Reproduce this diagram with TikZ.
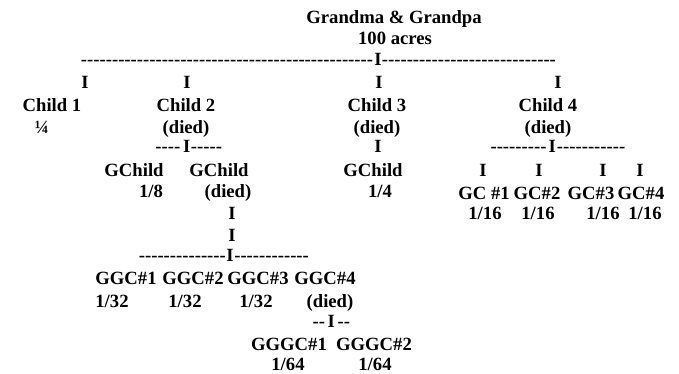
\documentclass[tikz,border=0pt]{standalone}
\usepackage{fontspec}
\setmainfont{Liberation Serif}
\usetikzlibrary{positioning}
\newcommand{\dashfill}[1]{\hbox to #1{\cleaders\hbox{-}\hfill}}

\begin{document}
\begin{tikzpicture}[
  x=0.75pt, y=-0.75pt,
  txt/.style={anchor=base, inner sep=0pt, font=\fontsize{14}{16}\selectfont\bfseries}
]
\useasboundingbox (0,0) rectangle (679,374);
% grandparents
\node[txt] (gp) at (394,24) {Grandma \& Grandpa};
\node[txt] (acres) at (395,45) {100 acres};
\node[txt] (bar0) at (318,66) {\dashfill{221pt}I\dashfill{131pt}};
% children
\node[txt] (i1) at (85,89) {I};
\node[txt] (i2) at (187,89) {I};
\node[txt] (i3) at (379,89) {I};
\node[txt] (i4) at (558,89) {I};
\node[txt] (child1) at (52,112) {Child 1};
\node[txt] (child2) at (186,112) {Child 2};
\node[txt] (child3) at (377,112) {Child 3};
\node[txt] (child4) at (548,112) {Child 4};
\node[txt] (share1) at (42,134) {¼};
\node[txt] (died2) at (186,134) {(died)};
\node[txt] (died3) at (377,134) {(died)};
\node[txt] (died4) at (548,134) {(died)};
% grandchildren
\node[txt] (bar2) at (187.5,153) {\dashfill{23pt}I\dashfill{24pt}};
\node[txt] (i3b) at (378,153) {I};
\node[txt] (bar4) at (557.5,153) {\dashfill{45pt}I\dashfill{53pt}};
\node[txt] (gc2a) at (134,177) {GChild};
\node[txt] (gc2b) at (219,177) {GChild};
\node[txt] (gc3) at (373,177) {GChild};
\node[txt] (ig1) at (483,177) {I};
\node[txt] (ig2) at (539,177) {I};
\node[txt] (ig3) at (603,177) {I};
\node[txt] (ig4) at (640,177) {I};
\node[txt] (sgc2a) at (151,198) {1/8};
\node[txt] (dgc2b) at (228,198) {(died)};
\node[txt] (sgc3) at (380,198) {1/4};
\node[txt] (gc41) at (484,200) {GC \#1};
\node[txt] (gc42) at (537,200) {GC\#2};
\node[txt] (gc43) at (591,200) {GC\#3};
\node[txt] (gc44) at (641,200) {GC\#4};
\node[txt] (igc2b) at (232,220) {I};
\node[txt] (sgc41) at (485,220) {1/16};
\node[txt] (sgc42) at (538,220) {1/16};
\node[txt] (sgc43) at (603,220) {1/16};
\node[txt] (sgc44) at (645,220) {1/16};
\node[txt] (igc2c) at (232,242) {I};
% great-grandchildren
\node[txt] (bar5) at (224,262) {\dashfill{66pt}I\dashfill{57pt}};
\node[txt] (ggc1) at (126,285) {GGC\#1};
\node[txt] (ggc2) at (193,285) {GGC\#2};
\node[txt] (ggc3) at (258,285) {GGC\#3};
\node[txt] (ggc4) at (325,285) {GGC\#4};
\node[txt] (sggc1) at (112,307) {1/32};
\node[txt] (sggc2) at (185,307) {1/32};
\node[txt] (sggc3) at (256,307) {1/32};
\node[txt] (dggc4) at (330,307) {(died)};
\node[txt] (bar6) at (331.5,328) {\dashfill{13pt}I\dashfill{13.5pt}};
\node[txt] (gggc1) at (289,350) {GGGC\#1};
\node[txt] (gggc2) at (374,350) {GGGC\#2};
\node[txt] (sgggc1) at (288,370) {1/64};
\node[txt] (sgggc2) at (375,370) {1/64};
\end{tikzpicture}
\end{document}
